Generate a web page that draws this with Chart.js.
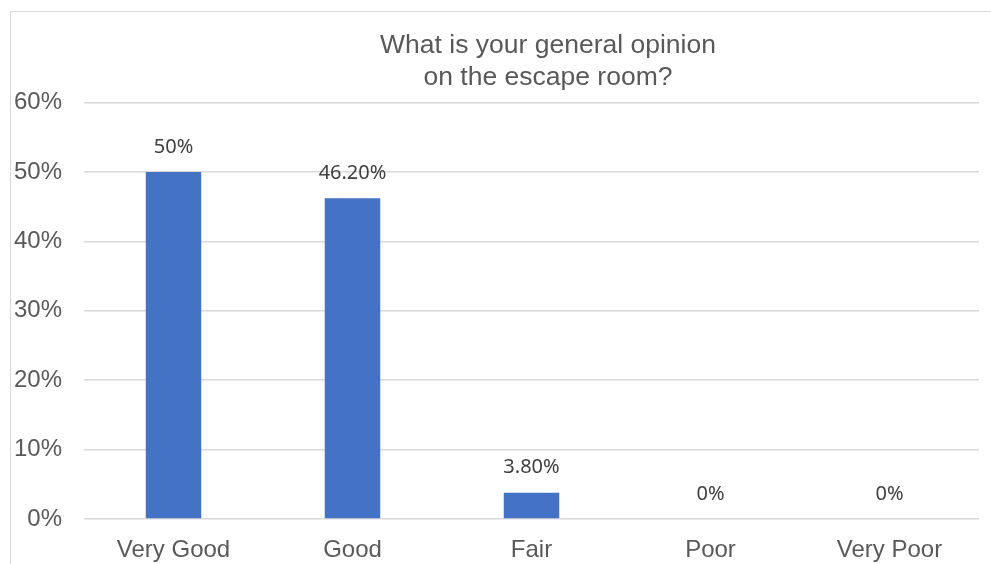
<!DOCTYPE html>
<html>
<head>
<meta charset="utf-8">
<script src="https://cdn.jsdelivr.net/npm/chart.js@4.4.1/dist/chart.umd.min.js"></script>
<style>
    html, body { margin: 0; padding: 0; background: #fff; overflow: hidden; }
    #frame {
        position: absolute; left: 10px; top: 11px;
        width: 1100px; height: 600px;
        border: 1px solid #d9d9d9;
    }
    #chart { position: absolute; left: 0; top: 0; }
</style>
</head>
<body>
<div id="frame"><canvas id="chart" width="1074" height="552"></canvas></div>
<script>
const categories = ['Very Good', 'Good', 'Fair', 'Poor', 'Very Poor'];
const shares = [50, 46.2, 3.8, 0, 0];
const shareLabels = ['50%', '46.20%', '3.80%', '0%', '0%'];
const yMin = 0;
const yMax = 60;
const yStep = 10;

// value labels above the bars
const barLabels = {
    id: 'barLabels',
    afterDatasetsDraw(chart) {
        const ctx = chart.ctx;
        const meta = chart.getDatasetMeta(0);
        ctx.save();
        ctx.font = '20px "Noto Sans", sans-serif';
        ctx.fillStyle = '#404040';
        ctx.textAlign = 'center';
        ctx.textBaseline = 'middle';
        meta.data.forEach((bar, i) => {
            ctx.fillText(shareLabels[i], bar.x, bar.y - 25);
        });
        ctx.restore();
    }
};

new Chart(document.getElementById('chart'), {
    type: 'bar',
    data: {
        labels: categories,
        datasets: [{
            data: shares,
            backgroundColor: '#4472C4',
            barPercentage: 0.31,
            categoryPercentage: 1
        }]
    },
    options: {
        responsive: false,
        animation: false,
        layout: { padding: 0 },
        plugins: {
            legend: { display: false },
            tooltip: { enabled: false },
            title: {
                display: true,
                text: ['What is your general opinion', 'on the escape room?'],
                color: '#595959',
                font: { family: '"Liberation Sans", Arial, sans-serif', size: 26.5, weight: 'normal', lineHeight: 1.2 },
                padding: { top: 18, bottom: 9 }
            }
        },
        scales: {
            x: {
                grid: { display: false },
                border: { display: false },
                ticks: {
                    color: '#595959',
                    padding: 9,
                    font: { family: '"Liberation Sans", Arial, sans-serif', size: 24 }
                },
                afterFit: s => { s.height = 45; }
            },
            y: {
                min: yMin,
                max: yMax,
                grid: { color: '#d9d9d9', lineWidth: 1.5, drawTicks: false },
                border: { display: false },
                ticks: {
                    stepSize: yStep,
                    color: '#595959',
                    padding: 22,
                    font: { family: '"Liberation Sans", Arial, sans-serif', size: 24 },
                    callback: v => v + '%'
                },
                afterFit: s => { s.width = 73; }
            },
            // empty right axis: keeps the plot narrower than the title box
            y2: {
                position: 'right',
                grid: { display: false },
                border: { display: false },
                ticks: { display: false },
                afterFit: s => { s.width = 106; }
            }
        }
    },
    plugins: [barLabels]
});
</script>
</body>
</html>
